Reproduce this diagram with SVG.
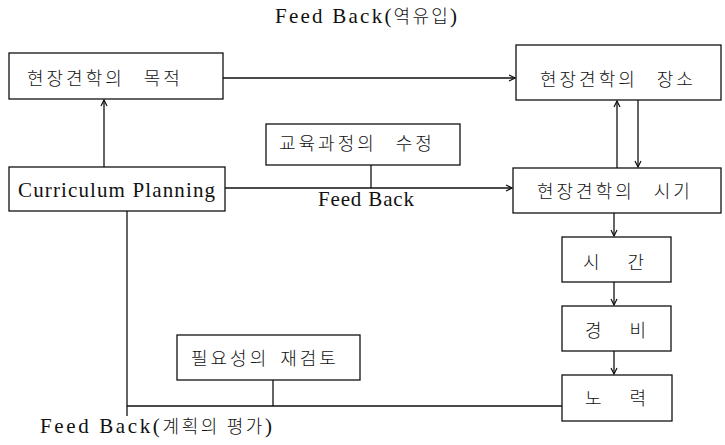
<svg xmlns="http://www.w3.org/2000/svg" width="725" height="445" viewBox="0 0 725 445">
<style>
  .box { fill: #ffffff; stroke: #111111; stroke-width: 1.3; }
  .ln { fill: none; stroke: #111111; stroke-width: 1.3; }
  .kr { font-family: "Noto Sans CJK KR", "Liberation Serif", serif; font-size: 18px; font-weight: 300; fill: #111111; letter-spacing: 3px; word-spacing: 12px; }
  .kr2 { word-spacing: 18px; }
  .kr3 { word-spacing: 4px; }
  .lat { font-family: "Liberation Serif", "Noto Sans CJK KR", serif; font-size: 21px; fill: #111111; }
  .krs { font-family: "Noto Sans CJK KR", sans-serif; font-size: 18px; font-weight: 300; }
</style>
<defs>
  <marker id="arr" markerWidth="8" markerHeight="8" refX="7" refY="4" orient="auto" markerUnits="userSpaceOnUse">
    <path d="M1,1 L7,4 L1,7" fill="none" stroke="#111111" stroke-width="1.2"/>
  </marker>
</defs>
<rect width="725" height="445" fill="#ffffff"/>

<text class="lat" x="275" y="23" textLength="182" lengthAdjust="spacing">Feed Back(<tspan class="krs">역유입</tspan>)</text>

<g id="connectors">
  <path class="ln" d="M223,78 H515" marker-end="url(#arr)"/>
  <path class="ln" d="M104,167 V100" marker-end="url(#arr)"/>
  <path class="ln" d="M617,168 V101" marker-end="url(#arr)"/>
  <path class="ln" d="M638,100 V167" marker-end="url(#arr)"/>
  <path class="ln" d="M225,188 H512" marker-end="url(#arr)"/>
  <path class="ln" d="M371,165 V188"/>
  <path class="ln" d="M614,213 V236" marker-end="url(#arr)"/>
  <path class="ln" d="M614,282 V305" marker-end="url(#arr)"/>
  <path class="ln" d="M614,351 V374" marker-end="url(#arr)"/>
  <path class="ln" d="M562,406 H127"/>
  <path class="ln" d="M127,211 V416"/>
  <path class="ln" d="M273,380 V406"/>
</g>

<g id="purpose">
  <rect class="box" x="9" y="53" width="214" height="46"/>
  <text class="kr" x="27" y="85">현장견학의 목적</text>
</g>
<g id="curriculum-planning">
  <rect class="box" x="9" y="167" width="216" height="44"/>
  <text class="lat" x="18" y="197" textLength="197" lengthAdjust="spacing">Curriculum Planning</text>
</g>
<g id="revision">
  <rect class="box" x="266" y="124" width="194" height="41"/>
  <text class="kr" x="279" y="150">교육과정의 수정</text>
</g>
<text class="lat" x="318" y="206" textLength="96" lengthAdjust="spacing">Feed Back</text>
<g id="place">
  <rect class="box" x="516" y="45" width="205" height="55"/>
  <text class="kr" x="540" y="86">현장견학의 장소</text>
</g>
<g id="timing">
  <rect class="box" x="513" y="168" width="208" height="45"/>
  <text class="kr" x="537" y="198">현장견학의 시기</text>
</g>
<g id="time">
  <rect class="box" x="562" y="237" width="109" height="45"/>
  <text class="kr kr2" x="583" y="269">시 간</text>
</g>
<g id="cost">
  <rect class="box" x="562" y="306" width="109" height="45"/>
  <text class="kr kr2" x="585" y="337">경 비</text>
</g>
<g id="effort">
  <rect class="box" x="562" y="375" width="110" height="46"/>
  <text class="kr kr2" x="585" y="405">노 력</text>
</g>
<g id="necessity">
  <rect class="box" x="177" y="335" width="183" height="45"/>
  <text class="kr kr3" x="191" y="365">필요성의 재검토</text>
</g>
<text class="lat" x="40" y="433" textLength="232" lengthAdjust="spacing">Feed Back(<tspan class="krs">계획의 평가</tspan>)</text>
</svg>
